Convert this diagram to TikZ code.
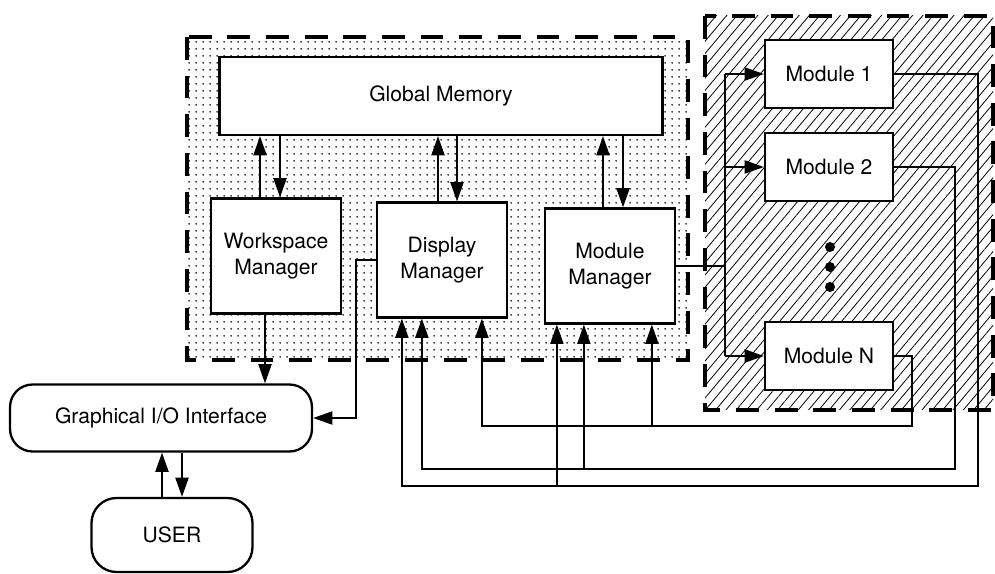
\documentclass[tikz,border=0pt]{standalone}
\usepackage{fontspec}
\setmainfont{TeX Gyre Heros}
\usetikzlibrary{calc,arrows.meta,patterns.meta}
\tikzset{
  box/.style={draw, line width=1.3pt, fill=white, inner sep=2pt, font=\fontsize{12}{15}\selectfont},
  wire/.style={line width=1pt},
  arr/.style={wire, -{Triangle[length=11pt,width=7.5pt]}},
  region/.style={line width=2.2pt, dash pattern=on 13pt off 9pt},
}
\newcommand\managerbox[4]{% name, x, y, label
\node (#1) at (#2,#3) [box, align=center, minimum width=2.6cm, minimum height=2.3cm] {#4};}
\newcommand\modulebox[3]{% name, y, label
\node (#1) at (829,#2) [box, minimum width=2.56cm, minimum height=1.36cm] {#3};}

\begin{document}
\begin{tikzpicture}[x=0.02cm,y=-0.02cm]
      \useasboundingbox (0,0) rectangle (995,574);

      \fill[pattern={Dots[distance=4pt,radius=0.55pt]}] (187,37) rectangle (688,360);
      \draw[region] (187,37) rectangle (688,360);
      \fill[pattern={Lines[angle=50,distance=4.5pt,line width=0.45pt]}] (705,16) rectangle (993,410);
      \draw[region] (705,16) rectangle (993,410);

      \node (gm) at (441,96) [box, minimum width=8.86cm, minimum height=1.56cm] {Global Memory};
      \managerbox{wm}{276}{256}{Workspace\\Manager}
      \managerbox{dm}{442}{260}{Display\\Manager}
      \managerbox{mm}{610}{266}{Module\\Manager}

      \modulebox{m1}{74}{Module 1}
      \modulebox{m2}{167}{Module 2}
      \modulebox{mn}{356}{Module N}
      \fill (830,247) circle (0.1cm) (830,267) circle (0.1cm) (830,287) circle (0.1cm);

      \node (gio) at (161,418) [box, rounded corners=0.45cm, minimum width=6.04cm, minimum height=1.34cm] {Graphical I/O Interface};
      \node (user) at (172,535) [box, rounded corners=0.5cm, minimum width=3.22cm, minimum height=1.48cm] {USER};

      \foreach \n/\u/\d in {wm/-16/4, dm/-4/15, mm/-7/13}{
        \path (\n.north) ++(\u,0) coordinate (up) (\n.north) ++(\d,0) coordinate (dn);
        \draw[arr] (up) -- (up |- gm.south);
        \draw[arr] (dn |- gm.south) -- (dn);
      }

      \coordinate (bus) at (725,0);
      \draw[wire] (mm.east) -- (mm.east -| bus);
      \draw[wire] (bus |- m1.west) -- (bus |- mn.west);
      \foreach \m in {m1,m2,mn} \draw[arr] (bus |- \m.west) -- (\m.west);

      \coordinate (ca) at (912,426);
      \coordinate (cb) at (955,469);
      \coordinate (cc) at (978,486);
      \path (dm.south west) ++(106,0) coordinate (da) ++(-60,0) coordinate (db) ++(-20,0) coordinate (dc);
      \path (mm.south west) ++(108,0) coordinate (ma) ++(-68,0) coordinate (mb) ++(-27,0) coordinate (mc);
      \draw[arr] (mn.east) -| (ca) -| (da);
      \draw[arr] (m2.east) -| (cb) -| (db);
      \draw[arr] (m1.east) -| (cc) -| (dc);
      \draw[arr] (ma |- ca) -- (ma);
      \draw[arr] (mb |- cb) -- (mb);
      \draw[arr] (mc |- cc) -- (mc);

      \draw[arr] (dm.west) -- ++(-20,0) |- (gio.east);
      \path (wm.south) ++(-11,0) coordinate (w);
      \draw[arr] (w) -- (w |- gio.north);

      \path (user.north) ++(-10,0) coordinate (uu) (user.north) ++(10,0) coordinate (ud);
      \draw[arr] (uu) -- (uu |- gio.south);
      \draw[arr] (ud |- gio.south) -- (ud);
    \end{tikzpicture}
\end{document}
